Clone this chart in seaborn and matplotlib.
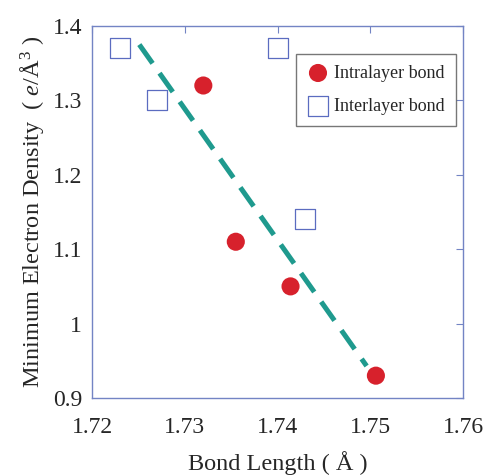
import pandas as pd
import seaborn as sns
import matplotlib.pyplot as plt

# data
intra_len = [1.7320, 1.7355, 1.7414, 1.7506]
intra_rho = [1.32, 1.11, 1.05, 0.93]
inter_len = [1.7230, 1.7270, 1.7400, 1.7430]
inter_rho = [1.37, 1.30, 1.37, 1.14]
fit_len = [1.7251, 1.7496]
fit_rho = [1.375, 0.943]

intra = pd.DataFrame({"len": intra_len, "rho": intra_rho})
inter = pd.DataFrame({"len": inter_len, "rho": inter_rho})
fit = pd.DataFrame({"len": fit_len, "rho": fit_rho})

sns.set_style("white")
plt.rcParams["font.family"] = ["Liberation Serif", "DejaVu Serif"]
plt.rcParams["mathtext.fontset"] = "custom"
plt.rcParams["mathtext.it"] = "Liberation Serif:italic"
plt.rcParams["mathtext.rm"] = "Liberation Serif"

spine_col = "#7384c4"

fig = plt.figure(figsize=(4.88, 4.76), dpi=100)
ax = fig.add_axes([0.1885, 0.1639, 0.7605, 0.7815])

sns.lineplot(x="len", y="rho", data=fit, ax=ax, color="#1f9a8e", lw=3.6,
             dashes=False, linestyle=(0, (4.6, 2.4)), zorder=1)
sns.scatterplot(x="len", y="rho", data=intra, ax=ax, color="#d7212c", s=170,
                marker="o", edgecolor="none", label="Intralayer bond", zorder=3)
sns.scatterplot(x="len", y="rho", data=inter, ax=ax, facecolor="white", s=190,
                marker="s", edgecolor="#5b6cc0", linewidth=0.9,
                label="Interlayer bond", zorder=3)

ax.set_xlim(1.72, 1.76)
ax.set_ylim(0.9, 1.4)
ax.set_xticks([1.72, 1.73, 1.74, 1.75, 1.76])
ax.set_xticklabels(["1.72", "1.73", "1.74", "1.75", "1.76"])
ax.set_yticks([0.9, 1.0, 1.1, 1.2, 1.3, 1.4])
ax.set_yticklabels(["0.9", "1", "1.1", "1.2", "1.3", "1.4"])
ax.tick_params(direction="in", length=5, width=0.8, color=spine_col,
               labelsize=17, top=True, right=True)
ax.tick_params(axis="x", pad=14)
ax.tick_params(axis="y", pad=7)
for sp in ax.spines.values():
    sp.set_color(spine_col)
    sp.set_linewidth(1.0)

ax.set_xlabel("Bond Length ( Å )", fontsize=17.5, labelpad=9)
ax.set_ylabel("Minimum Electron Density  ( $e$/Å$^3$ )", fontsize=17.5, labelpad=5)

leg = ax.legend(loc="upper right", bbox_to_anchor=(0.98, 0.925), fontsize=13,
                frameon=True, fancybox=False, edgecolor="#555555",
                borderpad=0.6, labelspacing=0.9, handletextpad=0.3,
                handlelength=1.2, borderaxespad=0)
leg.get_frame().set_linewidth(1.0)

fig.savefig("out.png", dpi=100)
